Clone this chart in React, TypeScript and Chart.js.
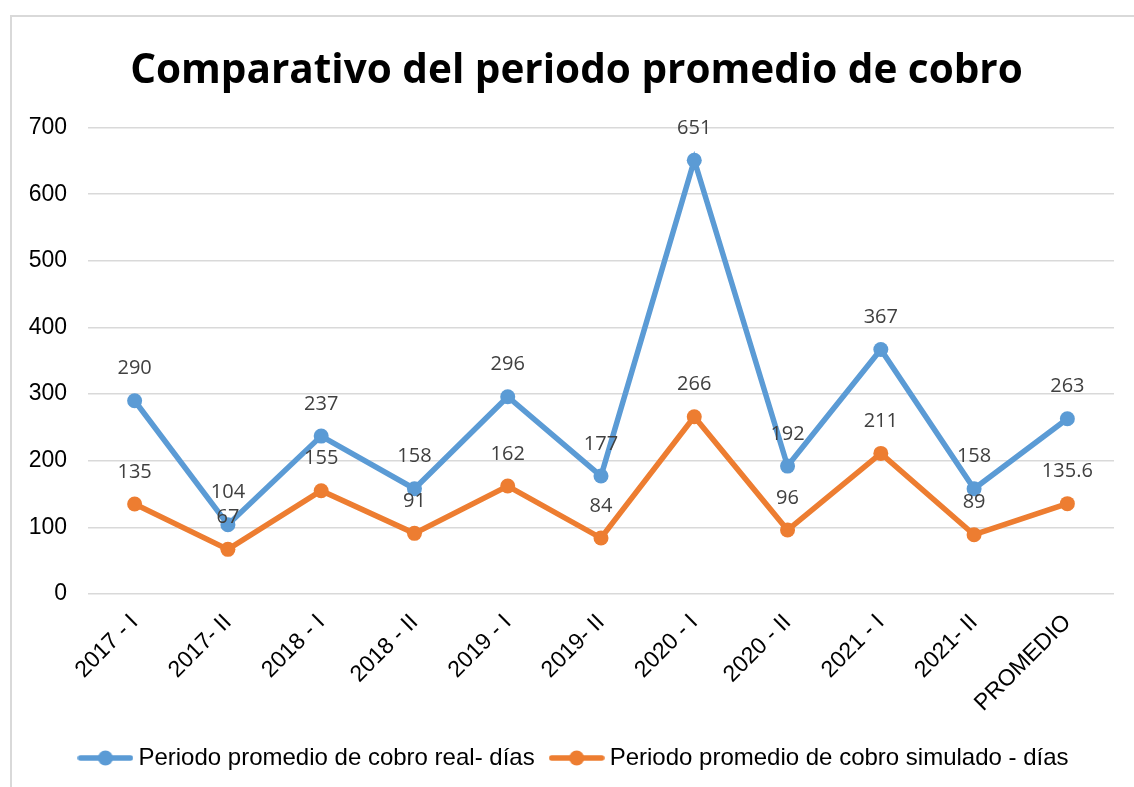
import React, { useEffect, useRef } from "react";
import { Chart, registerables } from "chart.js";

Chart.register(...registerables);

const chartTitle = "Comparativo del periodo promedio de cobro";
const categories = [
  "2017 - I",
  "2017- II",
  "2018 - I",
  "2018 - II",
  "2019 - I",
  "2019- II",
  "2020 - I",
  "2020 - II",
  "2021 - I",
  "2021- II",
  "PROMEDIO",
];
const realLabel = "Periodo promedio de cobro real- días";
const realValues = [290, 104, 237, 158, 296, 177, 651, 192, 367, 158, 263];
const simLabel = "Periodo promedio de cobro simulado - días";
const simValues = [135, 67, 155, 91, 162, 84, 266, 96, 211, 89, 135.6];
const yMin = 0;
const yMax = 700;
const yStep = 100;

const BLUE = "#5B9BD5";
const ORANGE = "#ED7D31";

function makeLegendMarker(color: string): HTMLCanvasElement {
  const c = document.createElement("canvas");
  c.width = 56;
  c.height = 16;
  const ctx = c.getContext("2d")!;
  ctx.strokeStyle = color;
  ctx.lineWidth = 5.5;
  ctx.lineCap = "round";
  ctx.beginPath();
  ctx.moveTo(3, 8);
  ctx.lineTo(53, 8);
  ctx.stroke();
  ctx.fillStyle = color;
  ctx.beginPath();
  ctx.arc(28, 8, 7.5, 0, Math.PI * 2);
  ctx.fill();
  return c;
}

const valueLabelPlugin = {
  id: "valueLabels",
  afterDatasetsDraw(chart: any) {
    const ctx = chart.ctx;
    ctx.save();
    ctx.font = '20px "Open Sans"';
    ctx.fillStyle = "#404040";
    ctx.textAlign = "center";
    ctx.textBaseline = "middle";
    chart.data.datasets.forEach((ds: any, i: number) => {
      const meta = chart.getDatasetMeta(i);
      meta.data.forEach((pt: any, j: number) => {
        ctx.fillText(String(ds.data[j]), pt.x, pt.y - 32);
      });
    });
    ctx.restore();
  },
};

export default function App() {
  const canvasRef = useRef<HTMLCanvasElement | null>(null);

  useEffect(() => {
    if (!canvasRef.current) return;
    const markers = [makeLegendMarker(BLUE), makeLegendMarker(ORANGE)];
    const chart = new Chart(canvasRef.current, {
      type: "line",
      data: {
        labels: categories,
        datasets: [
          {
            label: realLabel,
            data: realValues,
            borderColor: BLUE,
            backgroundColor: BLUE,
            pointBackgroundColor: BLUE,
            pointBorderColor: BLUE,
            borderWidth: 5.5,
            pointRadius: 7.5,
            pointBorderWidth: 0,
            tension: 0,
          },
          {
            label: simLabel,
            data: simValues,
            borderColor: ORANGE,
            backgroundColor: ORANGE,
            pointBackgroundColor: ORANGE,
            pointBorderColor: ORANGE,
            borderWidth: 5.5,
            pointRadius: 7.5,
            pointBorderWidth: 0,
            tension: 0,
          },
        ],
      },
      options: {
        responsive: false,
        animation: false,
        layout: { padding: { left: 17, right: 17, top: 0, bottom: 20 } },
        plugins: {
          title: {
            display: true,
            text: chartTitle,
            color: "#000000",
            font: { family: '"Open Sans"', size: 40.5, weight: "bold", lineHeight: 1.2 },
            padding: { top: 47, bottom: 32 },
          },
          legend: {
            display: true,
            position: "bottom",
            labels: {
              usePointStyle: true,
              pointStyleWidth: 42,
              color: "#000000",
              font: { family: '"Liberation Sans"', size: 24 },
              padding: 21,
              generateLabels: (ch: any) =>
                ch.data.datasets.map((ds: any, i: number) => ({
                  text: ds.label,
                  pointStyle: markers[i],
                  fillStyle: ds.borderColor,
                  strokeStyle: ds.borderColor,
                  lineWidth: 0,
                  datasetIndex: i,
                  hidden: false,
                  fontColor: "#000000",
                })),
            },
          },
          tooltip: { enabled: false },
        },
        scales: {
          x: {
            offset: true,
            grid: { display: false },
            border: { display: false },
            ticks: {
              color: "#000000",
              font: { family: '"Liberation Sans"', size: 23 },
              minRotation: 45,
              maxRotation: 45,
              autoSkip: false,
              padding: 7,
            },
            afterFit: (s: any) => {
              s.height = 131;
            },
          },
          y: {
            min: yMin,
            max: yMax,
            grid: { color: "#d9d9d9", lineWidth: 1.5, drawTicks: false },
            border: { display: false },
            ticks: {
              stepSize: yStep,
              color: "#000000",
              font: { family: '"Liberation Sans"', size: 23 },
              padding: 21,
            },
            afterFit: (s: any) => {
              s.width = 61;
            },
          },
          y2: {
            position: "right",
            display: true,
            grid: { display: false },
            border: { display: false },
            ticks: { display: false },
            afterFit: (s: any) => {
              s.width = 12;
            },
          },
        },
      },
      plugins: [valueLabelPlugin],
    } as any);
    return () => chart.destroy();
  }, []);

  return (
    <div
      style={{
        position: "fixed",
        left: 0,
        top: 0,
        width: 1134,
        height: 787,
        overflow: "hidden",
        background: "#ffffff",
      }}
    >
      <div
        style={{
          position: "absolute",
          left: 10,
          top: 15,
          width: 2000,
          height: 2000,
          borderLeft: "2px solid #d9d9d9",
          borderTop: "2px solid #d9d9d9",
        }}
      />
      <canvas
        ref={canvasRef}
        width={1133}
        height={800}
        style={{ position: "absolute", left: 10, top: 0, width: 1133, height: 800 }}
      />
    </div>
  );
}
